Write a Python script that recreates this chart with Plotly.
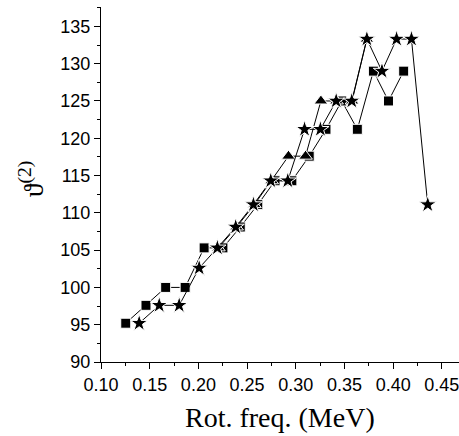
import plotly.graph_objects as go

# Series
sq_x = [0.1254, 0.1462, 0.1664, 0.1864, 0.2059, 0.2252, 0.2430, 0.2610, 0.2787, 0.2960,
        0.3138, 0.3310, 0.3472, 0.3632, 0.3797, 0.3952, 0.4108]
sq_y = [95.2, 97.6, 100.0, 100.0, 105.3, 105.3, 108.1, 111.1, 114.3, 114.3,
        117.6, 121.2, 125.0, 121.2, 129.0, 125.0, 129.0]

tri_x = [0.2205, 0.2392, 0.2575, 0.2752, 0.2925, 0.3100, 0.3258, 0.3418, 0.3578, 0.3730]
tri_y = [105.3, 108.1, 111.1, 114.3, 117.6, 117.6, 125.0, 125.0, 125.0, 133.3]

star_x = [0.1392, 0.1598, 0.1803, 0.2008, 0.2195, 0.2383, 0.2565, 0.2743, 0.2918, 0.3090,
          0.3253, 0.3415, 0.3575, 0.3730, 0.3885, 0.4035, 0.4188, 0.4355]
star_y = [95.2, 97.6, 97.6, 102.6, 105.3, 108.1, 111.1, 114.3, 114.3, 121.2,
          121.2, 125.0, 125.0, 133.3, 129.0, 133.3, 133.3, 111.1]

x_ticks = [0.10, 0.15, 0.20, 0.25, 0.30, 0.35, 0.40, 0.45]
y_ticks = [90, 95, 100, 105, 110, 115, 120, 125, 130, 135]

x_title = "Rot. freq. (MeV)"
y_title = "ϑ<sup>(2)</sup>"

fig = go.Figure()
line_style = dict(color="black", width=1)
outline = dict(color="white", width=1)
fig.add_trace(go.Scatter(x=sq_x, y=sq_y, mode="lines+markers", line=line_style,
                         marker=dict(symbol="square", size=10, color="black", line=outline)))
fig.add_trace(go.Scatter(x=tri_x, y=tri_y, mode="lines+markers", line=line_style,
                         marker=dict(symbol="triangle-up", size=12, color="black", line=outline)))
fig.add_trace(go.Scatter(x=star_x, y=star_y, mode="lines+markers", line=line_style,
                         marker=dict(symbol="star", size=13, color="black", line=outline)))

axis_common = dict(showline=True, linecolor="black", linewidth=1, showgrid=False,
                   zeroline=False, ticks="outside", ticklen=6, tickwidth=1, tickcolor="black",
                   tickfont=dict(family="Liberation Sans, Arial", size=18, color="black"),
                   mirror=False, automargin=False)

fig.update_xaxes(range=[0.1, 0.4676], tickvals=x_ticks,
                 ticktext=[f"{v:.2f}" for v in x_ticks], ticklabeloverflow="allow",
                 minor=dict(ticks="outside", ticklen=3, tickcolor="black", dtick=0.025, tick0=0.1),
                 **axis_common)
fig.update_yaxes(range=[90, 137.6], tickvals=y_ticks,
                 minor=dict(ticks="outside", ticklen=3, tickcolor="black", dtick=2.5, tick0=90),
                 **axis_common)

serif = dict(family="Liberation Serif, Times New Roman", size=28, color="black")
fig.add_annotation(text=x_title, xref="paper", yref="paper", x=0.5, y=-0.155,
                   xanchor="center", yanchor="middle", showarrow=False, font=serif)
fig.add_annotation(text=y_title, xref="paper", yref="paper", x=-0.195, y=0.515,
                   xanchor="center", yanchor="middle", showarrow=False, textangle=-90, font=serif)

fig.update_layout(width=459, height=436, margin=dict(l=101, r=0, t=7, b=74),
                  plot_bgcolor="white", paper_bgcolor="white", showlegend=False)

fig.write_html("out.html", config={"displayModeBar": False},
               post_script="document.body.style.margin='0px';")
